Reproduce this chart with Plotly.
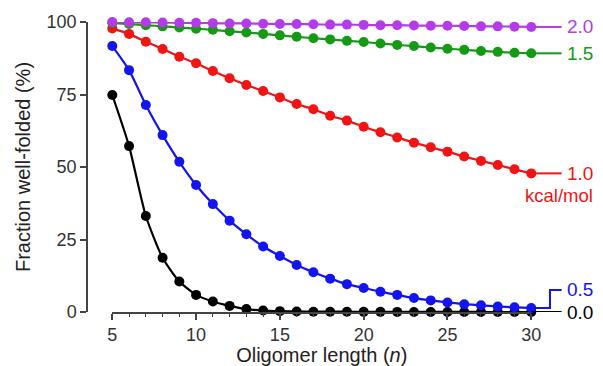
import plotly.graph_objects as go

n = list(range(5, 31))

kcal_0_0 = [74.8, 57.2, 33.1, 18.7, 10.5, 5.9, 3.6, 2.1, 1.0, 0.5, 0.3, 0.2, 0.1, 0.1,
            0.1, 0.05, 0.05, 0.03, 0.02, 0.02, 0.01, 0.01, 0.01, 0.0, 0.0, 0.0]
kcal_0_5 = [91.7, 83.4, 71.4, 61.0, 51.8, 43.8, 37.2, 31.5, 26.8, 22.6, 19.3, 16.2, 13.7,
            11.5, 9.6, 8.3, 7.0, 5.9, 4.8, 4.0, 3.3, 2.7, 2.3, 1.9, 1.6, 1.4]
kcal_1_0 = [97.8, 95.9, 93.2, 90.7, 88.0, 85.8, 83.1, 80.6, 78.3, 76.2, 74.0, 71.7, 69.9,
            67.7, 66.0, 63.9, 62.0, 60.2, 58.4, 56.8, 55.3, 53.6, 52.1, 50.7, 49.2, 47.8]
kcal_1_5 = [99.7, 99.3, 98.9, 98.5, 98.1, 97.7, 97.3, 96.8, 96.4, 95.9, 95.4, 94.9, 94.4,
            94.0, 93.5, 93.1, 92.6, 92.1, 91.7, 91.2, 90.8, 90.4, 90.0, 89.7, 89.4, 89.2]
kcal_2_0 = [100.0, 99.9, 99.9, 99.8, 99.7, 99.7, 99.6, 99.5, 99.5, 99.4, 99.3, 99.3, 99.2,
            99.1, 99.1, 99.0, 98.9, 98.9, 98.8, 98.7, 98.7, 98.6, 98.5, 98.5, 98.4, 98.3]

series = [
    ("0.0", kcal_0_0, "#000000"),
    ("0.5", kcal_0_5, "#1414F0"),
    ("1.0", kcal_1_0, "#F01414"),
    ("1.5", kcal_1_5, "#169A16"),
    ("2.0", kcal_2_0, "#B43CE8"),
]

x_ticks = [5, 10, 15, 20, 25, 30]
y_ticks = [0, 25, 50, 75, 100]

FONT = "Liberation Sans, Arial, Helvetica, sans-serif"

fig = go.Figure()
for name, vals, col in series:
    fig.add_trace(go.Scatter(
        x=n, y=vals, mode="lines+markers", name=name,
        line=dict(color=col, width=2.2, shape="spline", smoothing=0.6),
        marker=dict(color=col, size=10),
        cliponaxis=False, showlegend=False,
    ))

# right-side labels with leader lines
X_START = 0.0500
X_END = 0.878
X_STEP = 0.915
X_LEAD = 0.938
X_TEXT = 0.944
shapes = []
annotations = []
for name, vals, col in series:
    yv = vals[-1]
    if name == "0.5":
        y_lab = 7.6
        shapes.append(dict(type="path", xref="paper", yref="y",
                           path=f"M {X_END},{yv} L {X_STEP},{yv} L {X_STEP},{y_lab} L {X_LEAD},{y_lab}",
                           line=dict(color=col, width=2)))
    else:
        y_lab = yv
        shapes.append(dict(type="line", xref="paper", yref="y", x0=X_END, x1=X_LEAD,
                           y0=yv, y1=yv, line=dict(color=col, width=2)))
    annotations.append(dict(xref="paper", yref="y", x=X_TEXT, y=y_lab, text=name,
                            showarrow=False, xanchor="left", yanchor="middle",
                            font=dict(family=FONT, size=19, color=col)))
annotations.append(dict(xref="paper", yref="y", x=0.862, y=40.3, text="kcal/mol",
                        showarrow=False, xanchor="left", yanchor="middle",
                        font=dict(family=FONT, size=18.5, color="#F01414")))

fig.update_layout(
    width=603, height=366,
    margin=dict(l=87, r=0, t=22, b=54),
    plot_bgcolor="white", paper_bgcolor="white",
    font=dict(family=FONT, color="#333333"),
    shapes=shapes, annotations=annotations,
    xaxis=dict(
        domain=[X_START, X_END], range=[5, 30], anchor="y",
        showline=True, linecolor="#444444", linewidth=1.5,
        tickvals=x_ticks, ticks="outside", ticklen=6, tickwidth=1.5, tickcolor="#444444",
        minor=dict(dtick=1, tick0=5, ticks="outside", ticklen=3, tickwidth=1.2,
                   tickcolor="#444444"),
        tickfont=dict(size=18, color="#333333"),
        showgrid=False, zeroline=False,
        title=dict(text="Oligomer length (<i>n</i>)", font=dict(size=20, color="#222222"),
                   standoff=6),
    ),
    yaxis=dict(
        range=[0, 100], anchor="free", position=0,
        showline=True, linecolor="#444444", linewidth=1.5,
        tickvals=y_ticks, ticks="outside", ticklen=6, tickwidth=1.5, tickcolor="#444444",
        tickfont=dict(size=18, color="#333333"),
        showgrid=False, zeroline=False,
        title=dict(text="Fraction well-folded (%)", font=dict(size=20, color="#222222"),
                   standoff=10),
    ),
)

fig.write_html("out.html")
